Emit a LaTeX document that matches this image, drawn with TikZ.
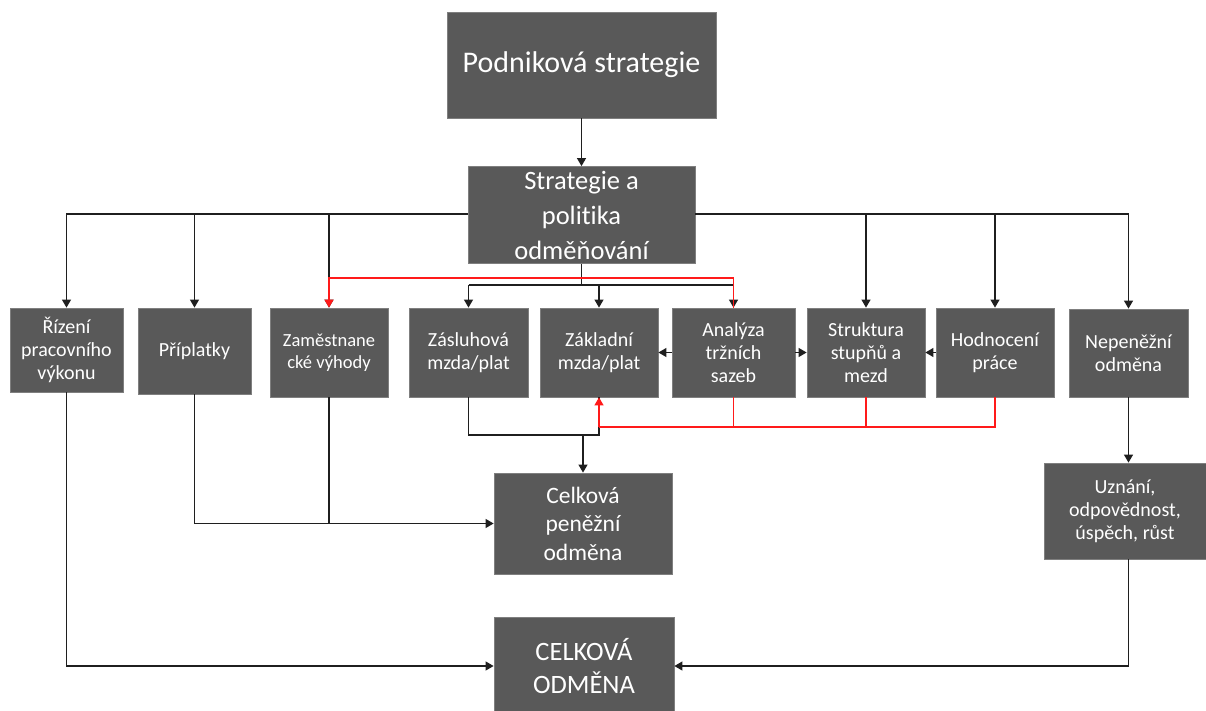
\documentclass[tikz,border=0pt]{standalone}
\usepackage{fontspec}
\setmainfont{Carlito}[Ligatures=NoCommon]
\usetikzlibrary{arrows.meta,calc}
\definecolor{boxgray}{HTML}{595959}
\definecolor{boxedge}{HTML}{7F7F7F}
\definecolor{lnred}{HTML}{FF1A1A}
\begin{document}
\begin{tikzpicture}[x=1pt,y=-1pt,
  box/.style={draw=boxedge, fill=boxgray, text=white, align=center, inner sep=0pt, line width=0.8pt},
  rowtxt/.style={font=\fontsize{20}{23}\selectfont},
  arr/.style={-{Triangle[width=9pt,length=8pt]}},
  ln/.style={line width=1.2pt, draw=black!88},
  redln/.style={line width=1.3pt, draw=lnred}]
\useasboundingbox (0,0) rectangle (1206,711);
% boxes
\node[box,minimum width=269pt,minimum height=106pt,font=\fontsize{30}{36}\selectfont] (ps) at (581.5,65) {Podniková strategie};
\node[box,minimum width=227pt,minimum height=97pt,font=\fontsize{26.5}{35}\selectfont] (sp) at (581.5,215) {Strategie a\\politika\\odměňování};
\node[box,rowtxt,minimum width=113pt,minimum height=84pt] (riz) at (66.5,350) {Řízení\\pracovního\\výkonu};
\node[box,rowtxt,minimum width=113pt,minimum height=86pt] (pri) at (194.5,351) {Příplatky};
\node[box,minimum width=118pt,minimum height=89pt,font=\fontsize{18.5}{21.5}\selectfont] (zam) at (329,352.5) {Zaměstnane\\cké výhody};
\node[box,rowtxt,minimum width=119pt,minimum height=89pt] (zas) at (468.5,352.5) {Zásluhová\\mzda/plat};
\node[box,rowtxt,minimum width=118pt,minimum height=89pt] (zak) at (599,352.5) {Základní\\mzda/plat};
\node[box,rowtxt,minimum width=123pt,minimum height=89pt] (ana) at (733.5,352.5) {Analýza\\tržních\\sazeb};
\node[box,rowtxt,minimum width=118pt,minimum height=89pt] (str) at (866,352.5) {Struktura\\stupňů a\\mezd};
\node[box,rowtxt,minimum width=118pt,minimum height=89pt] (hod) at (995,352.5) {Hodnocení\\práce};
\node[box,rowtxt,minimum width=119pt,minimum height=88pt] (nep) at (1128.5,353) {Nepeněžní\\odměna};
\node[box,minimum width=178pt,minimum height=101pt,font=\fontsize{23.5}{28.5}\selectfont] (cpo) at (583,523.5) {Celková\\peněžní\\odměna};
\node[box,minimum width=162pt,minimum height=96pt,font=\fontsize{20}{23}\selectfont] (uzn) at (1125,511) {Uznání,\\odpovědnost,\\úspěch, růst};
\node[box,minimum width=180pt,minimum height=98pt,font=\fontsize{26.5}{33}\selectfont] (co) at (584,666) {CELKOVÁ\\ODMĚNA};
% top
\draw[ln,arr] (ps) -- (sp);
% bus from strategy
\coordinate (bus) at (0,214);
\draw[ln,arr] (sp.west |- bus) -| (riz.north);
\draw[ln,arr] (pri.north |- bus) -- (pri.north);
\draw[ln,arr] (zam.north |- bus) -- (zam.north);
\draw[ln,arr] (sp.east |- bus) -| (nep.north);
\draw[ln,arr] (str.north |- bus) -- (str.north);
\draw[ln,arr] (hod.north |- bus) -- (hod.north);
% middle distribution
\coordinate (m) at (582,285);
\draw[ln] (sp.south) -- (sp.south |- m);
\draw[ln] (zas.north |- m) -- (ana.north |- m);
\draw[ln,arr] (zas.north |- m) -- (zas.north);
\draw[ln,arr] (zak.north |- m) -- (zak.north);
\draw[ln,arr] (ana.north |- m) -- (ana.north);
% red top: analysis -> benefits
\coordinate (r1) at (0,278);
\draw[redln,arr] (ana.north) -- (ana.north |- r1) -| (zam.north);
% horizontal arrows in row
\draw[ln,arr] (ana.west) -- (zak.east);
\draw[ln,arr] (ana.east) -- (str.west);
\draw[ln,arr] (hod.west) -- (str.east);
% black bottom to total cash
\coordinate (b) at (0,435);
\draw[ln] (zas.south) |- (zak.south |- b) -- (zak.south);
\draw[ln,arr] (cpo.north |- b) -- (cpo.north);
% red bottom into base pay
\coordinate (r2) at (0,427);
\draw[redln] (hod.south) |- (zak.south |- r2);
\draw[redln] (str.south) -- (str.south |- r2);
\draw[redln] (ana.south) -- (ana.south |- r2);
\draw[redln,arr] (zak.south |- r2) -- (zak.south);
% supplements and benefits
\draw[ln,arr] (pri.south) |- (cpo.west);
\draw[ln] (zam.south) -- (zam.south |- cpo.west);
% total reward
\draw[ln,arr] (riz.south) |- (co.west);
\draw[ln,arr] (nep.south) -- (nep.south |- uzn.north);
\draw[ln,arr] (nep.south |- uzn.south) |- (co.east);
\end{tikzpicture}
\end{document}
